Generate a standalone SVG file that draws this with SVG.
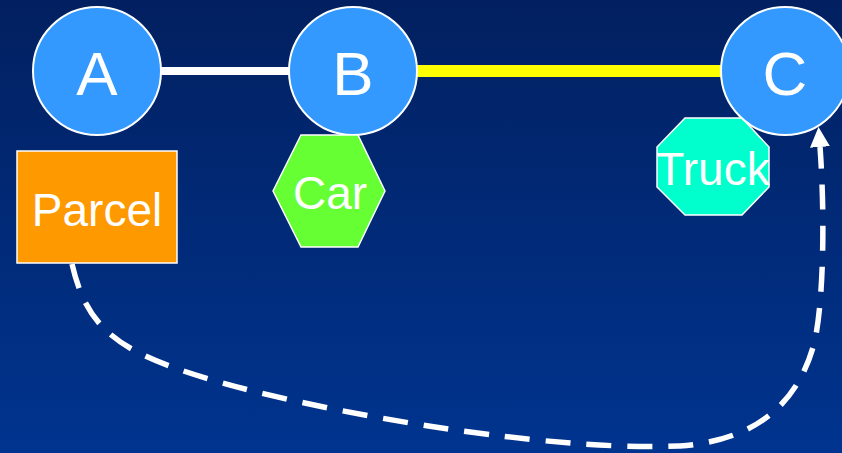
<svg xmlns="http://www.w3.org/2000/svg" width="842" height="453" viewBox="0 0 842 453">
<defs>
<linearGradient id="bg" x1="0" y1="0" x2="0" y2="1">
<stop offset="0" stop-color="#022060"/>
<stop offset="1" stop-color="#00348F"/>
</linearGradient>
<marker id="arrow" markerUnits="userSpaceOnUse" markerWidth="20" markerHeight="20" refX="0" refY="9" orient="auto" viewBox="0 0 18 18">
<path d="M0,0 L18,9 L0,18 Z" fill="#FFFFFF"/>
</marker>
</defs>
<style>
text { font-family: "Liberation Sans", Arial, sans-serif; fill: #FFFFFF; text-anchor: middle; }
.big { font-size: 62px; }
.mid { font-size: 46px; }
.city { fill: #3399FF; stroke: #FFFFFF; stroke-width: 2; }
.shape { stroke: #FFFFFF; stroke-width: 1.5; }
</style>
<rect x="0" y="0" width="842" height="453" fill="url(#bg)"/>
<g id="connectors">
<line x1="160" y1="71" x2="290" y2="71" stroke="#FFFFFF" stroke-width="8"/>
<line x1="415" y1="71" x2="722" y2="71" stroke="#FFFF00" stroke-width="12"/>
<path d="M72,264 C85,320 110,345 175,368 C250,395 380,420 470,432 C560,444 620,448 680,446 C760,440 800,400 815,340 C825,290 824,200 820,147" fill="none" stroke="#FFFFFF" stroke-width="5.5" stroke-dasharray="25 16" marker-end="url(#arrow)"/>
</g>
<g id="node-A">
<circle class="city" cx="97" cy="71" r="64"/>
<text class="big" x="97" y="95">A</text>
</g>
<g id="node-B">
<circle class="city" cx="353" cy="71" r="64"/>
<text class="big" x="353" y="95">B</text>
</g>
<g id="node-Truck">
<polygon class="shape" fill="#00FFCC" points="685,118 742,118 769,147 769,187 742,215 685,215 657,187 657,147"/>
<text class="mid" x="713" y="185">Truck</text>
</g>
<g id="node-C">
<circle class="city" cx="785" cy="71" r="64"/>
<text class="big" x="785" y="95">C</text>
</g>
<g id="node-Parcel">
<rect class="shape" fill="#FF9900" x="17" y="151" width="160" height="112"/>
<text class="mid" x="97" y="226">Parcel</text>
</g>
<g id="node-Car">
<polygon class="shape" fill="#66FF33" points="301,135 358,135 385,191 358,247 301,247 273,191"/>
<text class="mid" x="330" y="209">Car</text>
</g>
</svg>
